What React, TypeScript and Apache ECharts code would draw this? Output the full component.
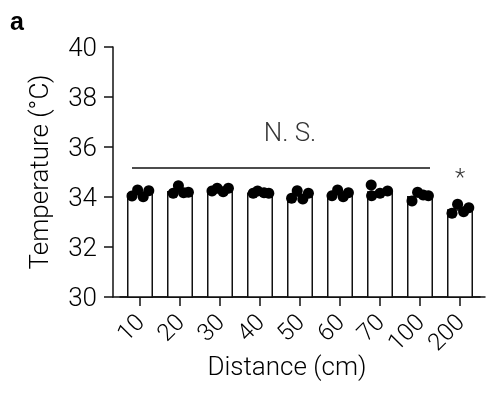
import React, { useEffect, useRef } from "react";
import * as echarts from "echarts";

const categories = ["10", "20", "30", "40", "50", "60", "70", "100", "200"];
const barMeans = [34.15, 34.24, 34.29, 34.18, 34.07, 34.13, 34.23, 34.04, 33.51];
const dotValues = [
  [34.04, 34.28, 34.01, 34.25],
  [34.15, 34.45, 34.17, 34.19],
  [34.24, 34.35, 34.21, 34.35],
  [34.15, 34.24, 34.17, 34.15],
  [33.95, 34.25, 33.92, 34.15],
  [34.05, 34.28, 34.01, 34.17],
  [34.48, 34.05, 34.15, 34.24],
  [33.84, 34.19, 34.08, 34.05],
  [33.35, 33.71, 33.41, 33.57],
];
const dotJitter = [
  [-0.2, -0.06, 0.08, 0.22],
  [-0.17, -0.04, 0.09, 0.21],
  [-0.2, -0.07, 0.08, 0.21],
  [-0.17, -0.06, 0.1, 0.22],
  [-0.21, -0.07, 0.07, 0.21],
  [-0.2, -0.06, 0.08, 0.21],
  [-0.22, -0.21, 0.0, 0.19],
  [-0.2, -0.06, 0.08, 0.21],
  [-0.2, -0.06, 0.09, 0.22],
];
const yTicks = { min: 30, max: 40, interval: 2 };
const nsLine = { from: -0.2, to: 7.25, value: 35.16 };
const annotations = [
  { name: "N. S.", pos: [3.75, 36.6], size: 26 },
  { name: "*", pos: [8, 34.8], size: 24 },
];

const FONT = "Roboto";
const WEIGHT = 300;
const INK = "#111";

export default function App() {
  const ref = useRef<HTMLDivElement>(null);
  useEffect(() => {
    if (!ref.current) return;
    const chart = echarts.init(ref.current, undefined, { renderer: "svg" });
    const dots: number[][] = [];
    dotValues.forEach((g, i) =>
      g.forEach((v, j) => dots.push([i + dotJitter[i][j], v]))
    );
    const txt = { color: "#000", fontFamily: FONT, fontWeight: WEIGHT };
    chart.setOption({
      animation: false,
      textStyle: { fontFamily: FONT, color: "#000", fontWeight: WEIGHT },
      grid: [
        { left: 120, right: 8, top: 47, bottom: 100 },
        { left: 113, right: 3, top: 47, bottom: 100 },
      ],
      xAxis: [
        {
          type: "category",
          gridIndex: 0,
          data: categories,
          axisLine: { show: true, onZero: false, lineStyle: { color: INK, width: 1.5 } },
          axisTick: { show: true, alignWithLabel: true, length: 9, lineStyle: { color: INK, width: 1.5 } },
          axisLabel: { interval: 0, rotate: 45, fontSize: 24, margin: 21, ...txt },
          name: "Distance (cm)",
          nameLocation: "middle",
          nameGap: 56,
          nameMoveOverlap: false,
          nameTextStyle: { fontSize: 26, ...txt, padding: [0, 26, 0, 0] },
        },
        { type: "value", gridIndex: 0, min: -0.5, max: 8.5, show: false, axisLine: { onZero: false } },
        {
          type: "value",
          gridIndex: 1,
          min: 0,
          max: 1,
          axisLine: { show: true, onZero: false, lineStyle: { color: INK, width: 1.5 } },
          axisTick: { show: false },
          axisLabel: { show: false },
          splitLine: { show: false },
        },
      ],
      yAxis: [
        {
          type: "value",
          gridIndex: 0,
          min: yTicks.min,
          max: yTicks.max,
          interval: yTicks.interval,
          offset: 7,
          axisLine: { show: true, onZero: false, lineStyle: { color: INK, width: 1.5 } },
          axisTick: { show: true, length: 9, lineStyle: { color: INK, width: 1.5 } },
          axisLabel: { fontSize: 26, margin: 16, ...txt },
          splitLine: { show: false },
          name: "Temperature (°C)",
          nameLocation: "middle",
          nameGap: 61,
          nameTextStyle: { fontSize: 26, ...txt },
        },
        { type: "value", gridIndex: 1, min: 0, max: 1, show: false, axisLine: { onZero: false } },
      ],
      graphic: [
        {
          type: "text",
          left: 10,
          top: 8,
          style: { text: "a", font: `bold 25px "Liberation Sans"`, fill: "#000" },
        },
      ],
      series: [
        {
          type: "bar",
          xAxisIndex: 0,
          yAxisIndex: 0,
          data: barMeans,
          barWidth: 26,
          itemStyle: { color: "#fff", borderColor: INK, borderWidth: 1.5 },
          z: 2,
        },
        {
          type: "scatter",
          xAxisIndex: 1,
          yAxisIndex: 0,
          data: dots,
          symbolSize: 11,
          itemStyle: { color: "#000", opacity: 1 },
          z: 3,
        },
        {
          type: "line",
          xAxisIndex: 1,
          yAxisIndex: 0,
          data: [
            [nsLine.from, nsLine.value],
            [nsLine.to, nsLine.value],
          ],
          showSymbol: false,
          symbol: "none",
          lineStyle: { color: INK, width: 1.5 },
          z: 3,
        },
        {
          type: "scatter",
          xAxisIndex: 1,
          yAxisIndex: 0,
          symbolSize: 0,
          data: annotations.map((a) => ({
            name: a.name,
            value: a.pos,
            label: { fontSize: a.size },
          })),
          label: {
            show: true,
            position: "inside",
            formatter: "{b}",
            ...txt,
          },
          z: 4,
        },
      ],
    });
    return () => chart.dispose();
  }, []);
  return (
    <div
      ref={ref}
      style={{ position: "fixed", left: 0, top: 0, width: 488, height: 397 }}
    />
  );
}
